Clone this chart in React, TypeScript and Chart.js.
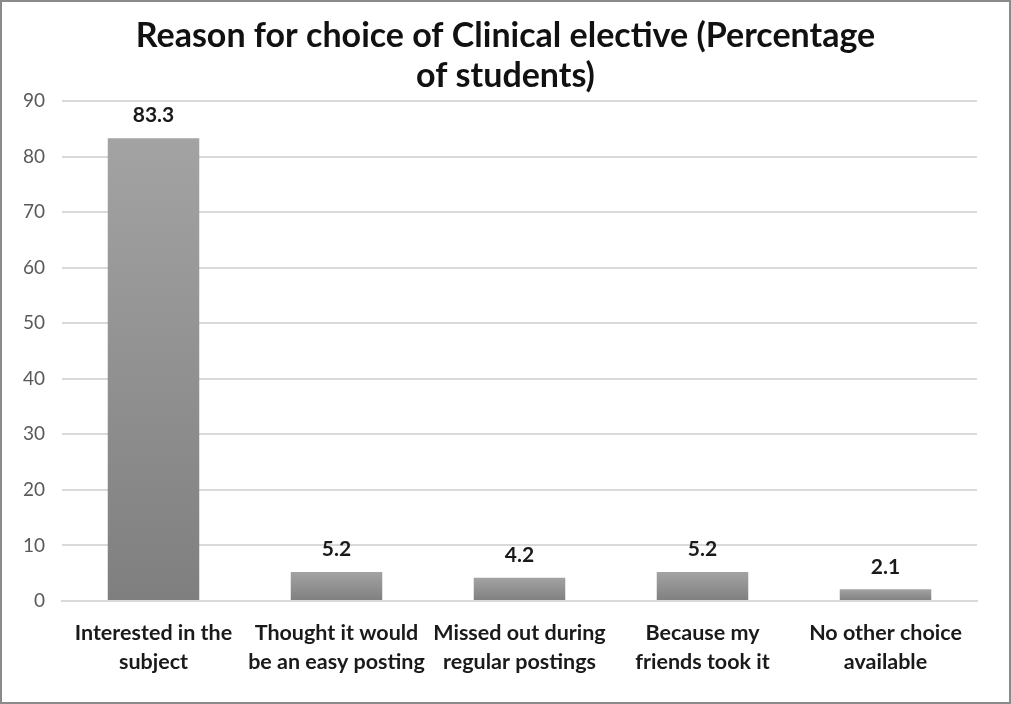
import React, { useEffect, useRef } from "react";
import { Chart, registerables } from "chart.js";

Chart.register(...registerables);

const categories: string[][] = [
  ["Interested in the", "subject"],
  ["Thought it would", "be an easy posting"],
  ["Missed out during", "regular postings"],
  ["Because my", "friends took it"],
  ["No other choice", "available"],
];
const values: number[] = [83.3, 5.2, 4.2, 5.2, 2.1];
const titleLines: string[] = [
  "Reason for choice of Clinical elective (Percentage",
  "of students)",
];
const yMax = 90;
const yStep = 10;

const FONT = "Lato, 'Open Sans', sans-serif";

const titlePlugin = {
  id: "customTitle",
  afterDraw(chart: any) {
    const ctx = chart.ctx;
    ctx.save();
    ctx.font = `bold 34px ${FONT}`;
    ctx.fillStyle = "#111111";
    ctx.textAlign = "center";
    ctx.textBaseline = "middle";
    const cx = chart.width / 2;
    titleLines.forEach((t, i) => ctx.fillText(t, cx, 34 + i * 40));
    ctx.restore();
  },
};

const labelPlugin = {
  id: "valueLabels",
  afterDatasetsDraw(chart: any) {
    const ctx = chart.ctx;
    const meta = chart.getDatasetMeta(0);
    ctx.save();
    ctx.font = `bold 21px ${FONT}`;
    ctx.fillStyle = "#1a1a1a";
    ctx.textAlign = "center";
    ctx.textBaseline = "bottom";
    meta.data.forEach((bar: any, i: number) => {
      ctx.fillText(String(values[i]), bar.x, bar.y - 12);
    });
    ctx.restore();
  },
};

export default function App() {
  const ref = useRef<HTMLCanvasElement>(null);
  useEffect(() => {
    document.body.style.margin = "0";
    if (!ref.current) return;
    const chart = new Chart(ref.current, {
      type: "bar",
      data: {
        labels: categories,
        datasets: [
          {
            data: values,
            barPercentage: 0.5,
            categoryPercentage: 1,
            borderWidth: 0,
            backgroundColor: (c: any) => {
              const ch = c.chart;
              if (!ch.chartArea || c.dataIndex === undefined) return "#909090";
              const ys = ch.scales.y;
              const top = ys.getPixelForValue(values[c.dataIndex]);
              const bottom = ys.getPixelForValue(0);
              if (!isFinite(top) || !isFinite(bottom) || top === bottom) return "#909090";
              const g = ch.ctx.createLinearGradient(0, top, 0, bottom);
              g.addColorStop(0, "#a3a3a3");
              g.addColorStop(1, "#7f7f7f");
              return g;
            },
          },
        ],
      },
      options: {
        animation: false,
        responsive: false,
        maintainAspectRatio: false,
        layout: { padding: { top: 99, right: 32, bottom: 0, left: 0 } },
        plugins: {
          legend: { display: false },
          title: { display: false },
          tooltip: { enabled: false },
        },
        scales: {
          x: {
            grid: { display: false },
            border: { display: true, color: "#d9d9d9", width: 2 },
            ticks: {
              color: "#1a1a1a",
              font: { family: FONT, size: 21.5, weight: "bold", lineHeight: 1.35 },
              padding: 10,
              maxRotation: 0,
              autoSkip: false,
            },
            afterFit: (s: any) => {
              s.height = 101;
            },
          },
          y: {
            min: 0,
            max: yMax,
            ticks: {
              stepSize: yStep,
              color: "#595959",
              font: { family: FONT, size: 19 },
              padding: 17,
            },
            grid: { color: "#d9d9d9", lineWidth: 2, drawTicks: false },
            border: { display: false },
            afterFit: (s: any) => {
              s.width = 60;
            },
          },
        },
      },
      plugins: [titlePlugin, labelPlugin],
    });
    return () => chart.destroy();
  }, []);
  return (
    <div
      style={{
        width: 1011,
        height: 704,
        border: "2px solid #8a8a8a",
        boxSizing: "border-box",
        background: "#ffffff",
      }}
    >
      <canvas ref={ref} width={1007} height={700} style={{ display: "block" }} />
    </div>
  );
}
